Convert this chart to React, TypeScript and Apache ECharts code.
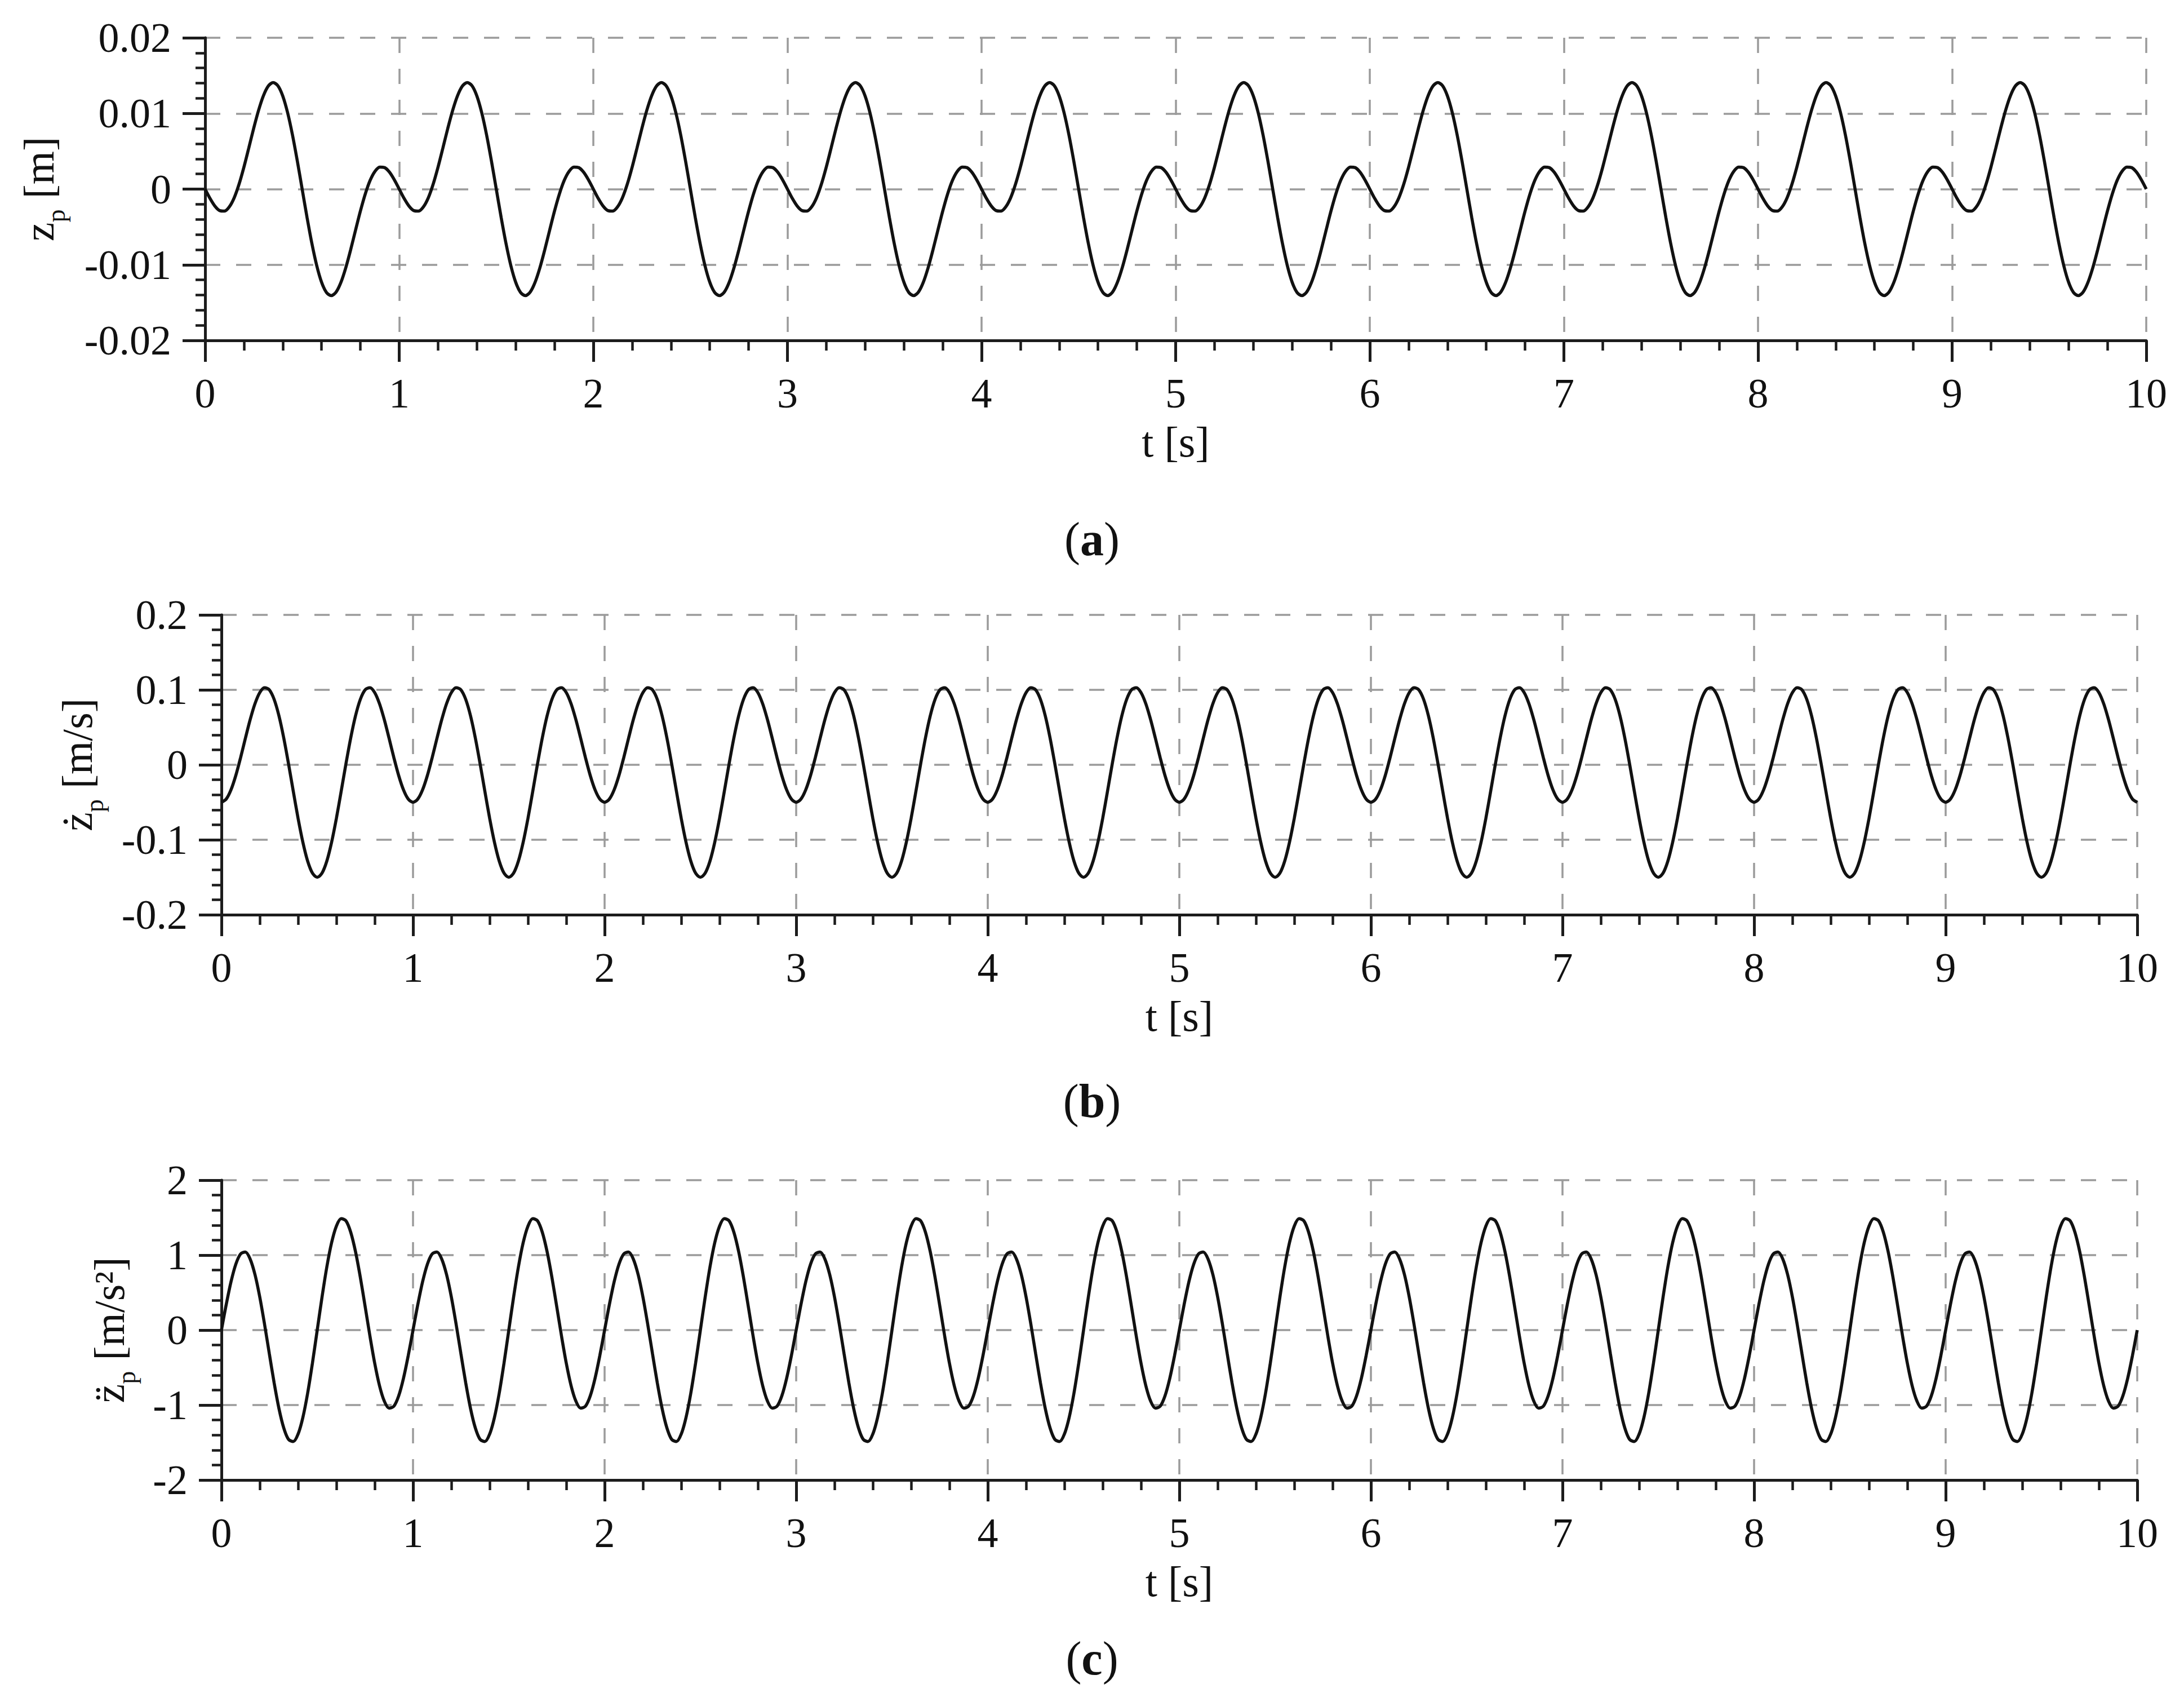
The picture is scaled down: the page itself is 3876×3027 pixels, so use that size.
import { useEffect, useRef } from "react";
import * as echarts from "echarts";

const STEP = 0.025;
const PERIODS = 10;

// (a) z_p [m]
const zPeriod = [
  0, -0.00122, -0.00223, -0.00284, -0.00291, -0.00234, -0.00114, 0.00066, 0.00291, 0.00543,
  0.008, 0.01037, 0.01231, 0.0136, 0.01408, 0.01366, 0.01231, 0.0101, 0.00717, 0.00372,
  0, -0.00372, -0.00717, -0.0101, -0.01231, -0.01366, -0.01408, -0.0136, -0.01231, -0.01037,
  -0.008, -0.00543, -0.00291, -0.00066, 0.00114, 0.00234, 0.00291, 0.00284, 0.00223, 0.00122,
];

// (b) dz_p/dt [m/s]
const vPeriod = [
  -0.05, -0.0457, -0.0333, -0.0142, 0.0096, 0.0354, 0.0603, 0.0815, 0.0964, 0.1029,
  0.1, 0.0873, 0.0655, 0.0361, 0.0015, -0.0354, -0.0714, -0.1033, -0.1285, -0.1445,
  -0.15, -0.1445, -0.1285, -0.1033, -0.0714, -0.0354, 0.0015, 0.0361, 0.0655, 0.0873,
  0.1, 0.1029, 0.0964, 0.0815, 0.0603, 0.0354, 0.0096, -0.0142, -0.0333, -0.0457,
];

// (c) d2z_p/dt2 [m/s2]
const aPeriod = [
  0, 0.341, 0.645, 0.879, 1.016, 1.041, 0.947, 0.741, 0.442, 0.078,
  -0.316, -0.703, -1.044, -1.304, -1.458, -1.487, -1.388, -1.166, -0.841, -0.44,
  0, 0.44, 0.841, 1.166, 1.388, 1.487, 1.458, 1.304, 1.044, 0.703,
  0.316, -0.078, -0.442, -0.741, -0.947, -1.041, -1.016, -0.879, -0.645, -0.341,
];

const yRanges = [
  { min: -0.02, max: 0.02, interval: 0.01 },
  { min: -0.2, max: 0.2, interval: 0.1 },
  { min: -2, max: 2, interval: 1 },
];
const yNames = ["{m|z}{s|p}{m| [m]}", "{m|\u017c}{s|p}{m| [m/s]}", "{m|z\u0308}{s|p}{m| [m/s\u00b2]}"];
const tags = ["a", "b", "c"];
const xName = "t [s]";

const FONT = "'Liberation Serif', 'Times New Roman', serif";
const INK = "#111";
const AXIS = "#1c1c1c";
const GRID = "#9b9b9b";

const layout = [
  { left: 364, right: 67, top: 67, height: 537, nameGap: 242, tagY: 956 },
  { left: 393, right: 83, top: 1091, height: 532, nameGap: 203, tagY: 1953 },
  { left: 393, right: 83, top: 2094, height: 532, nameGap: 146, tagY: 2942 },
];

function tile(period: number[]): [number, number][] {
  const out: [number, number][] = [];
  for (let k = 0; k < PERIODS; k++) {
    period.forEach((v, i) => out.push([+(k + i * STEP).toFixed(3), v]));
  }
  out.push([PERIODS, period[0]]);
  return out;
}

const nameRich = {
  m: { fontSize: 76, lineHeight: 106, fontFamily: FONT, color: INK },
  s: { fontSize: 46, lineHeight: 46, padding: [60, 0, 0, 0], fontFamily: FONT, color: INK },
};

export default function App() {
  const ref = useRef<HTMLDivElement>(null);

  useEffect(() => {
    if (!ref.current) return;
    const chart = echarts.init(ref.current, null, { renderer: "svg" });
    const series = [zPeriod, vPeriod, aPeriod];

    chart.setOption({
      animation: false,
      backgroundColor: "#fff",
      grid: layout.map((l) => ({ left: l.left, right: l.right, top: l.top, height: l.height })),
      xAxis: layout.map((l, i) => ({
        type: "value",
        gridIndex: i,
        min: 0,
        max: PERIODS,
        interval: 1,
        name: xName,
        nameLocation: "middle",
        nameGap: 142,
        nameTextStyle: { fontSize: 76, lineHeight: 76, fontFamily: FONT, color: INK },
        axisLine: { onZero: false, lineStyle: { color: AXIS, width: 5 } },
        axisTick: { length: 38, lineStyle: { color: AXIS, width: 5 } },
        minorTick: { show: true, splitNumber: 5, length: 18, lineStyle: { color: AXIS, width: 4.5 } },
        splitLine: { show: true, lineStyle: { color: GRID, width: 3.5, type: [27, 28] } },
        axisLabel: { fontSize: 74, lineHeight: 74, margin: 57, fontFamily: FONT, color: INK },
      })),
      yAxis: layout.map((l, i) => ({
        type: "value",
        gridIndex: i,
        ...yRanges[i],
        name: yNames[i],
        nameLocation: "middle",
        nameRotate: 90,
        nameGap: l.nameGap,
        nameTextStyle: { fontFamily: FONT, color: INK, rich: nameRich },
        axisLine: { onZero: false, lineStyle: { color: AXIS, width: 5 } },
        axisTick: { length: 40, lineStyle: { color: AXIS, width: 5 } },
        minorTick: { show: true, splitNumber: 5, length: 17, lineStyle: { color: AXIS, width: 4.5 } },
        splitLine: { show: true, lineStyle: { color: GRID, width: 3.5, type: [27, 28] } },
        axisLabel: { fontSize: 74, margin: 60, fontFamily: FONT, color: INK },
      })),
      series: series.map((p, i) => ({
        type: "line",
        xAxisIndex: i,
        yAxisIndex: i,
        data: tile(p),
        showSymbol: false,
        smooth: 0.3,
        lineStyle: { color: INK, width: 5.5 },
      })),
      graphic: layout.map((l, i) => ({
        type: "text",
        x: 1938,
        y: l.tagY,
        style: {
          text: `{p|(}{b|${tags[i]}}{p|)}`,
          rich: {
            p: { fontSize: 84, fontFamily: FONT, color: INK },
            b: { fontSize: 84, fontWeight: "bold", fontFamily: FONT, color: INK },
          },
          align: "center",
          verticalAlign: "middle",
          fill: INK,
        },
      })),
    });

    return () => chart.dispose();
  }, []);

  return (
    <div
      ref={ref}
      style={{ position: "absolute", left: 0, top: 0, width: 3876, height: 3027, background: "#fff" }}
    />
  );
}
